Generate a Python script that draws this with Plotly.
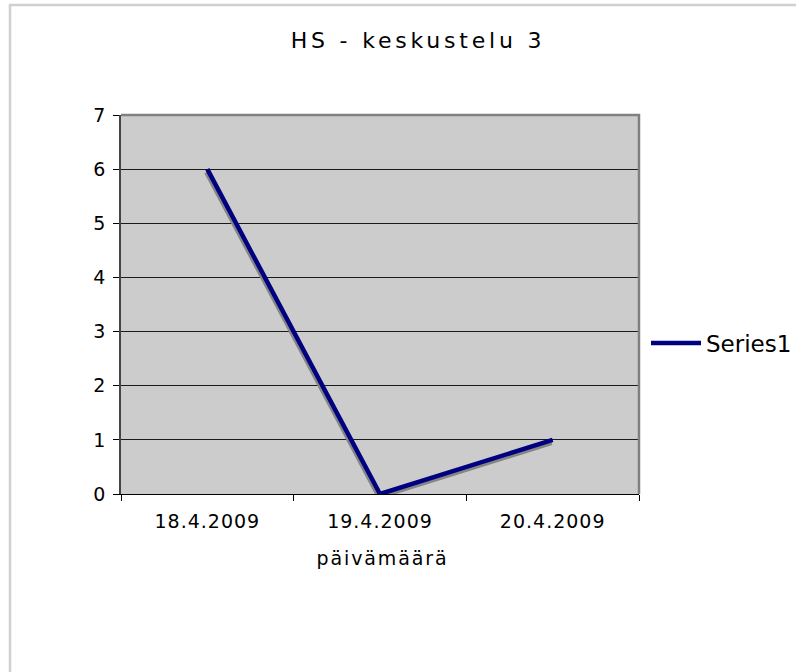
import plotly.graph_objects as go

# Data
dates = ["18.4.2009", "19.4.2009", "20.4.2009"]
values = [6, 0, 1]
series_name = "Series1"
chart_title = "HS - keskustelu 3"
x_title = "päivämäärä"
y_ticks = [0, 1, 2, 3, 4, 5, 6, 7]

W, H = 796, 672
L, R, T, B = 121, 639, 115, 494
pw, ph = R - L, B - T

FONT = "DejaVu Sans"
NAVY = "#000080"

# shadow offset in pixels
sdx, sdy = -1, 3
xr = [-0.5, 2.5]
yr = [0, 7]
x_per_px = (xr[1] - xr[0]) / pw
y_per_px = (yr[1] - yr[0]) / ph

fig = go.Figure()
# invisible trace establishing categories on base axes
fig.add_trace(go.Scatter(x=dates, y=values, mode="lines", line=dict(width=0),
                         showlegend=False, hoverinfo="skip", xaxis="x", yaxis="y"))
# shadow
fig.add_trace(go.Scatter(x=dates, y=values, mode="lines",
                         line=dict(color="#858585", width=4.5),
                         showlegend=False, hoverinfo="skip", xaxis="x2", yaxis="y2"))
# main line
fig.add_trace(go.Scatter(x=dates, y=values, mode="lines", name=series_name,
                         line=dict(color=NAVY, width=4.5), xaxis="x3", yaxis="y3"))


def px_x(p):
    return (p - L) / pw


def px_y(p):
    return (B - p) / ph


fig.update_layout(
    width=W, height=H,
    margin=dict(l=L, r=W - R, t=T, b=H - B, autoexpand=False),
    paper_bgcolor="white",
    plot_bgcolor="#cccccc",
    font=dict(family=FONT, size=19, color="black"),
    showlegend=True,
    legend=dict(x=px_x(646), y=px_y(343), xanchor="left", yanchor="middle",
                font=dict(family=FONT, size=23, color="black"),
                bgcolor="rgba(0,0,0,0)", itemwidth=50, tracegroupgap=0),
    xaxis=dict(type="category", categoryorder="array", categoryarray=dates,
               range=xr, showgrid=False, zeroline=False,
               ticks="outside", tickson="boundaries", ticklen=6, tickcolor="black",
               ticklabelstandoff=10,
               showline=True, linecolor="black", linewidth=1,
               tickfont=dict(family=FONT, size=19, color="black")),
    yaxis=dict(range=yr, tickvals=y_ticks, showgrid=True, gridcolor="#1a1a1a",
               gridwidth=1, zeroline=False,
               ticks="outside", ticklen=6, tickcolor="black",
               ticklabelstandoff=4,
               showline=True, linecolor="#444444", linewidth=1.5,
               tickfont=dict(family=FONT, size=19, color="black")),
    xaxis2=dict(type="category", categoryorder="array", categoryarray=dates,
                range=[xr[0] - sdx * x_per_px, xr[1] - sdx * x_per_px],
                overlaying="x", visible=False),
    yaxis2=dict(range=[yr[0] + sdy * y_per_px, yr[1] + sdy * y_per_px],
                overlaying="y", visible=False),
    xaxis3=dict(type="category", categoryorder="array", categoryarray=dates,
                range=xr, overlaying="x", visible=False),
    yaxis3=dict(range=yr, overlaying="y", visible=False),
    shapes=[
        # outer chart border (left and top edges visible)
        dict(type="path", xref="paper", yref="paper",
             path=f"M {px_x(10)} {px_y(680)} L {px_x(10)} {px_y(5)} L {px_x(800)} {px_y(5)}",
             line=dict(color="#d0d0d0", width=2.5), layer="below"),
        # plot area top/right border
        dict(type="path", xref="paper", yref="paper",
             path=f"M {px_x(L)} {px_y(T)} L {px_x(R)} {px_y(T)} L {px_x(R)} {px_y(B)}",
             line=dict(color="#808080", width=2.5), layer="above"),
    ],
    annotations=[
        dict(text=chart_title, xref="paper", yref="paper",
             x=px_x(418), y=px_y(41), xanchor="center", yanchor="middle",
             showarrow=False, font=dict(family=FONT, size=22, color="black")),
        dict(text=x_title, xref="paper", yref="paper",
             x=px_x(382), y=px_y(558), xanchor="center", yanchor="middle",
             showarrow=False, font=dict(family=FONT, size=19, color="black")),
    ],
)

post = """
document.documentElement.style.margin = '0';
document.documentElement.style.padding = '0';
document.documentElement.style.overflow = 'hidden';
document.body.style.margin = '0';
document.body.style.padding = '0';
document.body.style.overflow = 'hidden';
var spacing = {};
spacing[%s] = '3.8px';
spacing[%s] = '1.9px';
document.querySelectorAll('text.annotation-text').forEach(function(t) {
  var s = spacing[t.textContent];
  if (s) { t.style.letterSpacing = s; }
});
var st = document.createElement('style');
st.textContent = '.xtick text { letter-spacing: 1px; } html, body { overflow: hidden !important; margin: 0 !important; }';
document.head.appendChild(st);
""" % (repr(chart_title), repr(x_title))

fig.write_html("out.html", post_script=post, config={"displayModeBar": False})
